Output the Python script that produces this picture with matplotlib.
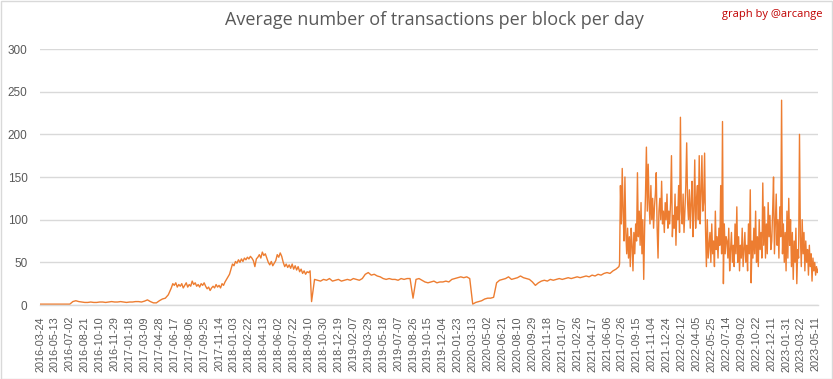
import numpy as np
import matplotlib
matplotlib.use("Agg")
import matplotlib.pyplot as plt
from matplotlib.patches import Rectangle

# ---- data -------------------------------------------------------------
tick_labels = [
    "2016-03-24", "2016-05-13", "2016-07-02", "2016-08-21", "2016-10-10", "2016-11-29",
    "2017-01-18", "2017-03-09", "2017-04-28", "2017-06-17", "2017-08-06", "2017-09-25",
    "2017-11-14", "2018-01-03", "2018-02-22", "2018-04-13", "2018-06-02", "2018-07-22",
    "2018-09-10", "2018-10-30", "2018-12-19", "2019-02-07", "2019-03-29", "2019-05-18",
    "2019-07-07", "2019-08-26", "2019-10-15", "2019-12-04", "2020-01-23", "2020-03-13",
    "2020-05-02", "2020-06-21", "2020-08-10", "2020-09-29", "2020-11-18", "2021-01-07",
    "2021-02-26", "2021-04-17", "2021-06-06", "2021-07-26", "2021-09-15", "2021-11-04",
    "2021-12-24", "2022-02-12", "2022-04-05", "2022-05-25", "2022-07-14", "2022-09-02",
    "2022-10-22", "2022-12-11", "2023-01-31", "2023-03-22", "2023-05-11",
]
label_step_days = 50

# 2016-03-24 .. 2017-05: one value every 10 days from day 0
seg1_start, seg1_step = 0, 10
seg1_values = [
    1, 1, 1, 1, 1, 1, 1, 1, 1, 1,
    1, 4, 5, 4, 3.5, 3, 3, 3.5, 3, 3,
    3.5, 3.5, 3, 3.5, 4, 3.5, 3.5, 4, 3.5, 3,
    3.5, 3.5, 4, 4, 3.5, 4.5, 6, 4, 2.5, 2.5,
    5, 7, 8, 12,
]

# 2017-06 .. 2018-09: one value every 5 days from day 440
seg2_start, seg2_step = 440, 5
seg2_values = [
    20, 25, 23, 26, 21, 24, 22, 25, 20, 23,
    26, 21, 24, 22, 28, 24, 26, 22, 24, 21,
    25, 23, 26, 22, 19, 21, 17, 20, 22, 20,
    24, 21, 23, 20, 25, 23, 27, 30, 33, 36,
    42, 48, 46, 51, 49, 53, 50, 54, 51, 55,
    53, 56, 54, 57, 55, 52, 45, 54, 56, 59,
    55, 62, 58, 60, 55, 50, 47, 51, 46, 49,
    52, 59, 56, 61, 57, 50, 45, 48, 44, 47,
    43, 48, 42, 46, 41, 45, 39, 42, 37, 40,
    36, 39, 38, 40,
]

# 2018-09 .. 2021-07: one value every 10 days from day 910
seg3_start, seg3_step = 910, 10
seg3_values = [
    4, 30, 29, 28, 30, 29, 31, 28, 29,
    30, 28, 29, 30, 29, 31, 30, 29, 31, 36,
    38, 35, 36, 34, 33, 31, 30, 31, 30, 30,
    29, 31, 30, 31, 31, 8, 30, 31, 29, 27,
    26, 27, 28, 26, 27, 27, 28, 27, 30, 31,
    32, 33, 32, 33, 31, 1, 3, 4, 5, 7,
    8, 8, 9, 26, 29, 30, 31, 33, 30, 31,
    32, 34, 32, 31, 30, 27, 23, 26, 28, 29,
    28, 30, 29, 30, 31, 30, 31, 32, 31, 32,
    33, 32, 33, 34, 33, 35, 34, 36, 35, 37,
    38, 37, 40, 42, 45,
]

# 2021-07 .. 2023-05: one value every 3 days from day 1942
seg4_start, seg4_step = 1942, 3
seg4_values = [
    48, 140, 95, 160, 110, 75, 150, 85, 60, 90,
    55, 80, 45, 90, 70, 40, 85, 60, 95, 75,
    155, 80, 110, 70, 120, 60, 100, 30, 90, 130,
    185, 110, 165, 120, 95, 140, 100, 125, 90, 115,
    130, 155, 90, 55, 110, 125, 100, 145, 95, 110,
    85, 120, 100, 130, 90, 110, 95, 120, 175, 80,
    105, 90, 130, 70, 115, 100, 140, 85, 220, 110,
    95, 130, 85, 110, 140, 190, 120, 100, 135, 90,
    120, 145, 80, 110, 170, 90, 125, 140, 100, 175,
    95, 130, 175, 110, 120, 178, 90, 45, 100, 55,
    70, 85, 50, 95, 60, 75, 45, 110, 65, 80,
    55, 90, 70, 140, 60, 215, 25, 95, 60, 80,
    75, 55, 90, 40, 65, 85, 50, 70, 45, 95,
    60, 115, 50, 80, 40, 70, 55, 90, 45, 65,
    85, 50, 70, 40, 95, 60, 135, 26, 75, 55,
    90, 60, 110, 50, 80, 45, 100, 65, 85, 55,
    143, 70, 115, 55, 95, 60, 120, 80, 105, 65,
    75, 110, 150, 60, 95, 130, 70, 100, 55, 115,
    80, 240, 60, 95, 50, 85, 40, 110, 55, 125,
    70, 100, 45, 85, 30, 75, 50, 90, 25, 65,
    55, 200, 80, 45, 100, 60, 85, 40, 75, 50,
    65, 35, 70, 45, 60, 28, 55, 40, 50, 35,
    45, 38, 42,
]

title = "Average number of transactions per block per day"
credit = "graph by @arcange"
y_ticks = [0, 50, 100, 150, 200, 250, 300]

# ---- figure -----------------------------------------------------------
W, H = 833, 379
fig = plt.figure(figsize=(W / 100, H / 100), dpi=100)
fig.patch.set_facecolor("white")
fig.add_artist(Rectangle((0.5 / W, 0.5 / H), 1 - 1.5 / W, 1 - 1.5 / H,
                         transform=fig.transFigure, fill=False,
                         edgecolor="#D9D9D9", linewidth=1.0))

left, right = 40 / W, 818 / W
bottom, top = 1 - 305 / H, 1 - 49 / H
ax = fig.add_axes([left, bottom, right - left, top - bottom])

segments = [
    (seg1_start, seg1_step, seg1_values),
    (seg2_start, seg2_step, seg2_values),
    (seg3_start, seg3_step, seg3_values),
    (seg4_start, seg4_step, seg4_values),
]
x = np.concatenate([s + st * np.arange(len(v)) for s, st, v in segments])
y = np.concatenate([np.asarray(v, dtype=float) for _, _, v in segments])

ax.plot(x, y, color="#ED7D31", linewidth=1.0)

tick_pos = np.arange(len(tick_labels)) * label_step_days
ax.set_xlim(0, 2607)
ax.set_ylim(0, 300)
ax.set_xticks(tick_pos)
ax.set_xticklabels(tick_labels, rotation=90, fontsize=7.8,
                   family="Liberation Sans", color="#595959")
ax.set_yticks(y_ticks)
ax.set_yticklabels([str(v) for v in y_ticks], fontsize=8.5,
                   family="Liberation Sans", color="#595959")
ax.tick_params(axis="both", length=0)
ax.tick_params(axis="x", pad=8)
ax.tick_params(axis="y", pad=9)
ax.grid(axis="y", color="#D9D9D9", linewidth=1.0)
ax.set_axisbelow(True)
for s in ["top", "right", "left"]:
    ax.spines[s].set_visible(False)
ax.spines["bottom"].set_color("#D9D9D9")
ax.spines["bottom"].set_linewidth(1.0)

fig.text(434 / W, 1 - 20 / H, title, ha="center", va="center",
         fontsize=13, family="Open Sans", color="#595959")
fig.text(822 / W, 1 - 15 / H, credit, ha="right", va="center",
         fontsize=8, family="Open Sans", color="#C00000")

fig.savefig("out.png", dpi=100)
